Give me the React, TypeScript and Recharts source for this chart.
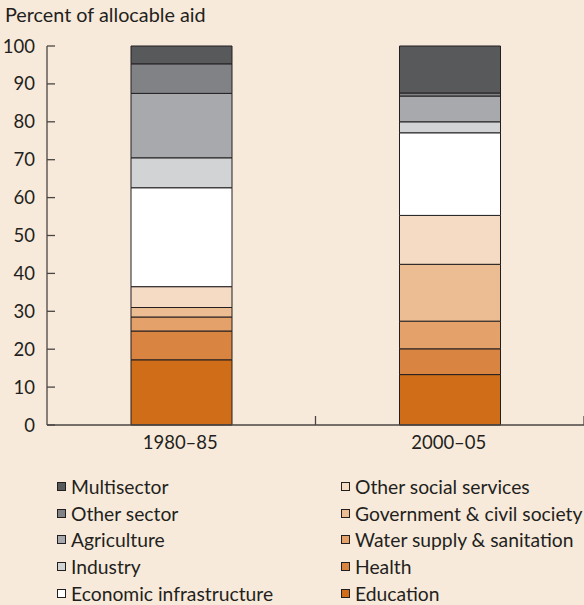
import { BarChart, Bar, XAxis, YAxis } from "recharts";

const categories = ["1980–85", "2000–05"];

// stacked bottom -> top
const education = [17.2, 13.3];
const health = [7.6, 6.8];
const waterSupply = [3.7, 7.3];
const government = [2.5, 15.0];
const otherSocial = [5.5, 12.9];
const economicInfra = [26.1, 21.8];
const industry = [7.9, 2.9];
const agriculture = [17.0, 6.8];
const otherSector = [7.8, 0.8];
const multisector = [4.7, 12.4];

const yTicks = [0, 10, 20, 30, 40, 50, 60, 70, 80, 90, 100];

const series = [
  { key: "education", name: "Education", values: education, color: "#cf6d18" },
  { key: "health", name: "Health", values: health, color: "#d98541" },
  { key: "water", name: "Water supply & sanitation", values: waterSupply, color: "#e4a16a" },
  { key: "gov", name: "Government & civil society", values: government, color: "#ecbc92" },
  { key: "otherSocial", name: "Other social services", values: otherSocial, color: "#f5dbc3" },
  { key: "econ", name: "Economic infrastructure", values: economicInfra, color: "#ffffff" },
  { key: "industry", name: "Industry", values: industry, color: "#d1d3d4" },
  { key: "agri", name: "Agriculture", values: agriculture, color: "#a7a9ac" },
  { key: "otherSector", name: "Other sector", values: otherSector, color: "#808285" },
  { key: "multi", name: "Multisector", values: multisector, color: "#58595b" },
];

const data = categories.map((c, i) => {
  const row: Record<string, string | number> = { period: c };
  series.forEach((s) => (row[s.key] = s.values[i]));
  return row;
});

const BG = "#f8eadb";
const AXIS = "#4a4543";
const INK = "#231f20";
const FONT = "Lato, sans-serif";

const W = 584;
const LEFT = 47;
const halfBand = (W - LEFT) / categories.length / 2;

const YTick = (props: any) => {
  const { x, y, payload } = props;
  return (
    <g>
      <line x1={x + 12} x2={x + 20} y1={y} y2={y} stroke={AXIS} strokeWidth={1.3} />
      <text x={x} y={y} dy={6.5} textAnchor="end" fill={INK} fontSize={18.5} fontFamily={FONT}>
        {payload.value}
      </text>
    </g>
  );
};

const XTick = (props: any) => {
  const { x, y, payload } = props;
  return (
    <g>
      <line x1={x + halfBand} x2={x + halfBand} y1={y} y2={y - 9} stroke={AXIS} strokeWidth={1.3} />
      <text x={x - 1} y={y + 24} textAnchor="middle" fill={INK} fontSize={18.5} fontFamily={FONT}>
        {payload.value}
      </text>
    </g>
  );
};

const legendLeft = series.slice(5).reverse();
const legendRight = series.slice(0, 5).reverse();

const LegendCol = ({ items, left }: { items: typeof series; left: number }) => (
  <div style={{ position: "absolute", left, top: 473 }}>
    {items.map((s) => (
      <div key={s.key} style={{ display: "flex", alignItems: "center", height: 26.7 }}>
        <div
          style={{
            width: 7,
            height: 7,
            background: s.color,
            border: `1px solid ${INK}`,
            marginRight: 5,
          }}
        />
        <span style={{ fontSize: 19.3, color: INK, fontFamily: FONT }}>{s.name}</span>
      </div>
    ))}
  </div>
);

export default function App() {
  return (
    <div style={{ position: "relative", width: W, height: 605, background: BG, fontFamily: FONT }}>
      <style>{"body{margin:0}"}</style>
      <div style={{ position: "absolute", left: 5, top: 2, fontSize: 19.8, color: INK }}>
        Percent of allocable aid
      </div>
      <BarChart
        width={W}
        height={460}
        data={data}
        margin={{ top: 46, right: 0, left: 0, bottom: 5 }}
        barCategoryGap={0}
      >
        <XAxis
          dataKey="period"
          axisLine={{ stroke: AXIS, strokeWidth: 1.3 }}
          tickLine={false}
          tickSize={0}
          tickMargin={0}
          tick={<XTick />}
          height={30}
        />
        <YAxis
          domain={[0, 100]}
          ticks={yTicks}
          width={LEFT}
          axisLine={{ stroke: AXIS, strokeWidth: 1.3 }}
          tickLine={false}
          tickSize={0}
          tickMargin={12}
          tick={<YTick />}
          interval={0}
        />
        {series.map((s) => (
          <Bar
            key={s.key}
            dataKey={s.key}
            stackId="a"
            fill={s.color}
            stroke={INK}
            strokeWidth={1}
            barSize={101}
            isAnimationActive={false}
          />
        ))}
      </BarChart>
      <LegendCol items={legendLeft} left={57} />
      <LegendCol items={legendRight} left={341} />
    </div>
  );
}
